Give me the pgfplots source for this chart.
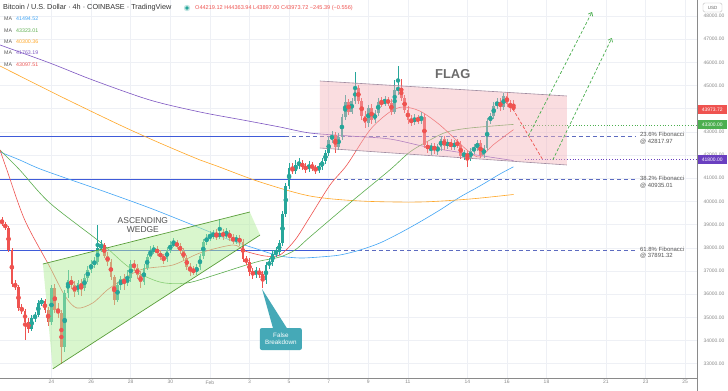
\documentclass[border=0pt]{standalone}
\usepackage{fontspec}
\setmainfont{Liberation Sans}
\usepackage{pgfplots}
\pgfplotsset{compat=1.18}
\usepackage{pgfplotstable}
\usetikzlibrary{arrows.meta}
\definecolor{upc}{HTML}{26A69A}
\definecolor{dnc}{HTML}{EF5350}
\definecolor{maBlue}{HTML}{42A5F5}
\definecolor{maGreen}{HTML}{5CAE4F}
\definecolor{maOrange}{HTML}{FFA726}
\definecolor{maPurple}{HTML}{7E57C2}
\definecolor{maRed}{HTML}{EF5350}
\definecolor{hblue}{HTML}{3F5BD9}
\definecolor{fibc}{HTML}{5C6BC0}
\definecolor{wedgeFill}{HTML}{B4EE9C}
\definecolor{wedgeLine}{HTML}{5A9E3A}
\definecolor{flagFill}{HTML}{F4B4BC}
\definecolor{flagLine}{HTML}{A08CA0}
\definecolor{tealc}{HTML}{45A9B7}
\definecolor{txtgray}{HTML}{555555}
\definecolor{axgray}{HTML}{8A8A8A}
\definecolor{gridc}{HTML}{EEF0F5}
\definecolor{dotgreen}{HTML}{4CAF50}
\definecolor{dotpurple}{HTML}{6A3FC0}

\pgfplotstableread{
x o h l c
-54 34497 35101 34411 34972
-53 34972 35231 34799 35101
-52 35101 35748 35015 35619
-51 35619 35834 35489 35705
-48 34799 36395 34670 36266
-44 33720 36179 33505 36050
-43 36050 37042 35834 36611
-40 36093 36611 35964 36481
-38 36266 36870 36136 36697
-37 36697 37215 36525 37042
-36 37042 37474 36913 37301
-35 37301 37603 37128 37387
-34 37387 38983 37258 37991
-33 37991 38336 37819 38121
-28 35748 36525 35662 36395
-27 36395 36783 36179 36654
-25 36481 37042 36352 36697
-24 36697 37474 36525 37301
-20 36525 37301 36395 37128
-19 37128 37732 37042 37603
-18 37603 38078 37517 37862
-17 37862 38121 37732 37948
-13 37517 38034 37387 37905
-12 37905 38293 37776 38121
-11 38121 38423 38034 38207
-4 36956 37301 36826 37172
-3 37172 37732 37042 37646
-2 37646 38380 37517 38250
-1 38250 38595 38121 38423
0 38423 38725 38293 38509
1 38509 38768 38380 38595
3 38466 39242 38380 38639
5 38509 38854 38423 38639
8 38293 38552 38164 38423
14 36870 37172 36697 36999
17 36611 37387 36438 37258
18 37258 37560 37085 37387
19 37387 37905 37215 37732
20 37732 38034 37603 37819
21 37819 38336 37689 38207
22 38207 39587 38078 39458
23 39458 40795 39329 40666
24 40666 41658 40537 41443
26 41313 41788 41184 41572
27 41572 41874 41400 41658
30 41400 41745 41270 41572
33 41356 41658 41227 41486
34 41486 41874 41356 41745
35 41745 42219 41615 42090
36 42090 42780 41960 42650
37 42650 43039 42521 42866
39 42348 42952 42219 42780
40 42780 43772 42650 43643
41 43643 44592 43513 44290
43 43858 44462 43772 44333
44 44333 45584 44203 44894
48 43384 44160 43211 44031
50 43513 43945 43384 43815
51 43815 44462 43686 44290
53 44203 44549 44117 44376
56 43858 45239 43772 44807
57 44807 45843 44592 44894
62 43427 43772 43298 43599
64 43470 43858 43341 43643
67 42262 42521 42003 42392
69 42219 42478 42003 42348
70 42348 42823 42176 42694
72 42392 42694 42262 42564
74 42348 42650 42219 42521
77 41960 42219 41788 42090
79 41874 42305 41745 42176
80 42176 42478 42046 42305
81 42305 42650 42176 42521
83 42003 42435 41874 42305
84 42305 43599 42219 43470
85 43470 43815 43341 43686
86 43686 44290 43556 44117
87 44117 44462 43988 44290
89 44074 44678 43945 44549
}\upT

\pgfplotstableread{
x o h l c
-63 39199 39329 38940 39027
-62 39027 39113 38768 38854
-61 38854 38940 37819 37905
-60 37905 37991 36309 36438
-59 36438 36611 36179 36309
-58 36309 36395 35274 35403
-57 35403 35576 35144 35274
-56 35274 35360 34022 34799
-55 34799 34972 34325 34497
-50 35705 35791 35187 35317
-49 35317 35446 34627 34799
-47 36266 36438 35187 35317
-46 35317 35619 34972 35187
-45 35187 35317 32987 33720
-42 36611 36783 36223 36395
-41 36395 36568 35877 36093
-39 36481 36654 35921 36266
-32 38121 38207 37560 37646
-31 37646 37819 37215 37387
-30 37387 37517 36611 36740
-29 36740 36826 35532 35748
-26 36654 36870 36179 36481
-23 37301 37474 36999 37128
-22 37128 37301 36654 36826
-21 36826 36999 36266 36525
-16 37948 38078 37646 37776
-15 37776 37905 37474 37603
-14 37603 37732 37301 37517
-10 38207 38336 37948 38078
-9 38078 38207 37732 37862
-8 37862 37991 37430 37560
-7 37560 37689 37042 37172
-6 37172 37344 36783 37042
-5 37042 37215 36826 36956
2 38595 38811 38336 38466
4 38639 38811 38336 38509
6 38639 38768 38293 38423
7 38423 38595 38164 38293
9 38423 38552 38078 38250
10 38250 38380 37387 37517
11 37517 37646 37258 37387
12 37387 37560 36783 36956
13 36956 37128 36654 36870
15 36999 37128 36697 36870
16 36870 36999 36266 36611
25 41443 41658 41184 41313
28 41658 41788 41356 41486
29 41486 41658 41227 41400
31 41572 41701 41313 41443
32 41443 41572 41184 41356
38 42866 42996 42090 42348
42 44290 44419 43729 43858
45 44894 45023 44203 44333
46 44333 44462 43513 43686
47 43686 43901 43168 43384
49 44031 44203 43341 43513
52 44290 44505 44074 44203
54 44376 44505 44117 44247
55 44247 44419 43729 43858
58 44894 45300 44333 44462
59 44462 44592 43815 43945
60 43945 44117 43341 43513
61 43513 43729 43254 43427
63 43599 43729 43341 43470
65 43643 43772 42305 42435
66 42435 42607 42090 42262
68 42392 42521 42046 42219
71 42694 42823 42219 42392
73 42564 42694 42219 42348
75 42521 42694 42305 42435
76 42435 42607 41831 41960
78 42090 42219 41486 41874
82 42521 42650 41874 42003
88 44290 44462 43901 44074
90 44549 44721 44074 44203
91 44203 44376 43858 44117
92 44117 44363.94 43897 43973.72
}\dnT

\begin{document}
\begin{tikzpicture}
\useasboundingbox (0,0) rectangle (728bp,391bp);
\fill[white] (0,0) rectangle (728bp,391bp);
\begin{axis}[
  at={(0,13bp)}, anchor=south west, scale only axis,
  width=697bp, height=378bp,
  xmin=-63.6, xmax=147.6, ymin=32383, ymax=48690,
  axis x line*=bottom, axis y line*=right,
  axis line style={draw=axgray, line width=0.5bp},
  xtick={-48,-36,-24,-12,0,12,24,36,48,60,78,90,102,120,132,144},
  xticklabels={24,26,28,30,Feb,3,5,7,9,11,14,16,18,21,23,25},
  ytick={33000,34000,...,48000},
  yticklabels={33000.00,34000.00,35000.00,36000.00,37000.00,38000.00,39000.00,40000.00,41000.00,42000.00,43000.00,,45000.00,46000.00,47000.00,48000.00},
  scaled y ticks=false, scaled x ticks=false,
  tick style={draw=none},
  grid=major, major grid style={draw=gridc, line width=0.5bp},
  xticklabel style={font=\fontsize{5}{6}\selectfont, text=axgray, yshift=1bp},
  yticklabel style={font=\fontsize{5}{6}\selectfont, text=axgray, xshift=3bp},
  clip=false,
]
% horizontal support lines (solid) and fibonacci (dashed)
\addplot[color=hblue, line width=0.8bp] coordinates {(-63.6,42817.97) (22.7,42817.97)};
\addplot[color=fibc, line width=0.7bp, dash pattern=on 4bp off 3bp] coordinates {(22.7,42817.97) (128.8,42817.97)};
\addplot[color=hblue, line width=0.8bp] coordinates {(-63.6,40935.01) (36.4,40935.01)};
\addplot[color=fibc, line width=0.7bp, dash pattern=on 4bp off 3bp] coordinates {(36.4,40935.01) (128.8,40935.01)};
\addplot[color=hblue, line width=0.8bp] coordinates {(-63.6,37891.32) (36.4,37891.32)};
\addplot[color=fibc, line width=0.7bp, dash pattern=on 4bp off 3bp] coordinates {(36.4,37891.32) (128.8,37891.32)};
% dotted levels
\addplot[color=dotgreen, line width=0.8bp, dash pattern=on 0.8bp off 2bp] coordinates {(93.9,43300) (147.6,43300)};
\addplot[color=dotpurple, line width=0.8bp, dash pattern=on 0.8bp off 2bp] coordinates {(95.5,41800) (147.6,41800)};

% moving averages
\addplot[color=maBlue, line width=0.6bp, smooth, tension=0.5] coordinates {(-63.6,42133) (-57.6,41788) (-50.6,41356) (-33.3,40494) (-18.2,39717) (-5.2,38983) (6.1,38336) (15.2,37905) (21.2,37646) (27.3,37560) (33.3,37603) (39.4,37689) (45.5,37905) (51.5,38207) (57.6,38639) (63.6,39113) (69.7,39631) (75.8,40191) (81.8,40666) (87.9,41184) (92,41494.52)};
\addplot[color=maPurple, line width=0.6bp, smooth, tension=0.5] coordinates {(-63.6,46749) (-48.5,45972) (-35.5,45239) (-18.2,44376) (-3,43858) (10,43513) (21.2,43211) (30.3,42952) (42.4,42823) (54.5,42694) (65.8,42348) (78.8,42046) (92,41763.19)};
\addplot[color=maOrange, line width=0.6bp, smooth, tension=0.5] coordinates {(-63.6,45843) (-45.5,44549) (-27.3,43298) (-15.2,42521) (-3,41788) (2.1,41529) (15.2,40839) (30.3,40235) (45.5,40019) (63.6,39976) (78.8,40105) (92,40300.36)};
\addplot[color=maGreen, line width=0.6bp, smooth, tension=0.5] coordinates {(-63.6,42219) (-57.6,41356) (-48.5,39933) (-33.3,38250) (-24.2,37128) (-15.2,36525) (-7,36481) (1.5,36826) (9.1,37172) (15.2,37430) (21.2,37603) (25.8,37905) (30.3,38466) (42.4,39933) (54.5,41356) (60.6,42133) (66.7,42650) (71.8,42996) (78.8,43168) (92,43323.01)};
\addplot[color=maRed, line width=0.6bp, smooth, tension=0.5] coordinates {(-63.6,42219) (-61.5,41356) (-56.1,39199) (-48.5,37172) (-43.9,35921) (-40.3,35403) (-35.5,35619) (-30.3,36266) (-21.2,37042) (-11.2,37258) (-3,37776) (7,38121) (10.6,37862) (16.7,37646) (21.2,37689) (25.8,38336) (30.3,39329) (36.4,40709) (41.5,41572) (48.5,43082) (54.5,43858) (58.5,44074) (63.6,43901) (69.7,43298) (77.9,42219) (81.8,41917) (85.8,42435) (92,43097.51)};

% candles
\addplot[color=upc, only marks, mark=none, error bars/.cd, y dir=both, y explicit, error mark=none, error bar style={color=upc, line width=0.6bp}] table[x=x, y expr=(\thisrow{h}+\thisrow{l})/2, y error expr=(\thisrow{h}-\thisrow{l})/2] {\upT};
\addplot[color=upc, only marks, mark=none, error bars/.cd, y dir=both, y explicit, error mark=none, error bar style={color=upc, line width=2.7bp}] table[x=x, y expr=(\thisrow{o}+\thisrow{c})/2, y error expr=abs(\thisrow{c}-\thisrow{o})/2+8] {\upT};
\addplot[color=dnc, only marks, mark=none, error bars/.cd, y dir=both, y explicit, error mark=none, error bar style={color=dnc, line width=0.6bp}] table[x=x, y expr=(\thisrow{h}+\thisrow{l})/2, y error expr=(\thisrow{h}-\thisrow{l})/2] {\dnT};
\addplot[color=dnc, only marks, mark=none, error bars/.cd, y dir=both, y explicit, error mark=none, error bar style={color=dnc, line width=2.7bp}] table[x=x, y expr=(\thisrow{o}+\thisrow{c})/2, y error expr=abs(\thisrow{c}-\thisrow{o})/2+8] {\dnT};

% wedge
\fill[wedgeFill, fill opacity=0.5] (axis cs:-50.6,37301) -- (axis cs:12.1,39544) -- (axis cs:15.2,38552) -- (axis cs:-47.6,32778) -- cycle;
\draw[wedgeLine, line width=0.7bp] (axis cs:-50.6,37301) -- (axis cs:12.1,39544);
\draw[wedgeLine, line width=0.7bp] (axis cs:-47.6,32778) -- (axis cs:15.2,38552);
% flag
\fill[flagFill, fill opacity=0.45] (axis cs:33.3,45196) -- (axis cs:108.2,44549) -- (axis cs:108.2,41572) -- (axis cs:33.3,42305) -- cycle;
\draw[flagLine, line width=0.6bp] (axis cs:33.3,45196) -- (axis cs:108.2,44549);
\draw[flagLine, line width=0.6bp] (axis cs:33.3,42305) -- (axis cs:108.2,41572);

% projected path
\addplot[color=dnc, line width=0.7bp, dash pattern=on 3bp off 2bp] coordinates {(91.8,43988) (100.9,41788)};
\addplot[color=dotgreen, line width=0.7bp, dash pattern=on 3bp off 2bp, -{Straight Barb[length=3bp,width=5bp]}] coordinates {(96.5,42817.97) (115.8,48172)};
\addplot[color=dotgreen, line width=0.7bp, dash pattern=on 3bp off 2bp, -{Straight Barb[length=3bp,width=5bp]}] coordinates {(103.9,41788) (121.8,47051)};

% annotations
\node[font=\bfseries\fontsize{13}{14}\selectfont, text=black!58] at (axis cs:73.6,45498) {FLAG};
\node[font=\fontsize{8.5}{9.5}\selectfont, text=black!68, align=center] at (axis cs:-20.3,38983) {ASCENDING\\WEDGE};
\fill[tealc] (axis cs:15.8,36223) -- (axis cs:19.1,34540) -- (axis cs:23.3,34540) -- cycle;
\node[fill=tealc, rounded corners=2bp, text=white, font=\fontsize{6.3}{7.5}\selectfont, align=center, minimum width=42bp, minimum height=22bp, inner sep=1bp] at (axis cs:21.5,34065) {False\\Breakdown};

\node[anchor=west, font=\fontsize{6}{6.8}\selectfont, text=txtgray, align=left, inner sep=0pt, yshift=-2.5bp] at (axis cs:130.3,42817.97) {23.6\% Fibonacci\\@ 42817.97};
\node[anchor=west, font=\fontsize{6}{6.8}\selectfont, text=txtgray, align=left, inner sep=0pt, yshift=-2.5bp] at (axis cs:130.3,40935.01) {38.2\% Fibonacci\\@ 40935.01};
\node[anchor=west, font=\fontsize{6}{6.8}\selectfont, text=txtgray, align=left, inner sep=0pt, yshift=-2.5bp] at (axis cs:130.3,37891.32) {61.8\% Fibonacci\\@ 37891.32};

% right value labels
\node[anchor=west, fill=dnc, text=white, font=\fontsize{5}{6}\selectfont, minimum width=29bp, minimum height=9bp, inner sep=0.5bp, xshift=0.5bp] at (axis cs:147.6,43973.72) {43973.72};
\node[anchor=west, fill=dotgreen, text=white, font=\fontsize{5}{6}\selectfont, minimum width=29bp, minimum height=9bp, inner sep=0.5bp, xshift=0.5bp] at (axis cs:147.6,43300) {43300.00};
\node[anchor=west, fill=dotpurple, text=white, font=\fontsize{5}{6}\selectfont, minimum width=29bp, minimum height=9bp, inner sep=0.5bp, xshift=0.5bp] at (axis cs:147.6,41800) {41800.00};
\end{axis}

% header and legend
\node[anchor=west, font=\fontsize{7.3}{8}\selectfont, text=black!80, inner sep=0pt] at (3bp,383bp) {Bitcoin / U.S. Dollar · 4h · COINBASE · TradingView};
\fill[upc!30] (187bp,383bp) circle (3.2bp);
\fill[upc] (187bp,383bp) circle (1.9bp);
\node[anchor=west, font=\fontsize{5.6}{7}\selectfont, text=dnc, inner sep=0pt] at (195bp,383bp) {O44219.12 H44363.94 L43897.00 C43973.72 −245.39 (−0.556)};
\foreach \yy/\cc/\vv in {372/maBlue/41494.52, 360/maGreen/43323.01, 349/maOrange/40300.36, 338/maPurple/41763.19, 326/maRed/43097.51}{
  \node[anchor=west, font=\fontsize{5.3}{6}\selectfont, text=black!65, inner sep=0pt] at (4bp,\yy bp) {MA};
  \node[anchor=west, font=\fontsize{5.3}{6}\selectfont, text=\cc, inner sep=0pt] at (16bp,\yy bp) {\vv};
}
\draw[black!25, rounded corners=1.5bp, line width=0.4bp] (703bp,379bp) rectangle (722bp,388bp);
\node[font=\fontsize{4.5}{5}\selectfont, text=black!60, inner sep=0pt] at (712.5bp,383.5bp) {USD};
\draw[axgray, line width=0.5bp] (697bp,0) -- (697bp,13bp);
\end{tikzpicture}
\end{document}
